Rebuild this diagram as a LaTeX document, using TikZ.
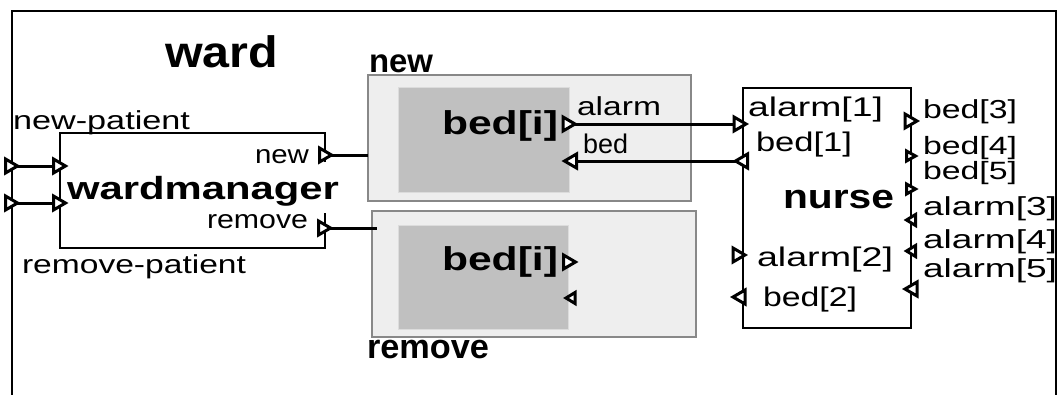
\documentclass[tikz,border=0pt]{standalone}
\usepackage{fontspec}
\setmainfont{Liberation Sans}
\usepackage{graphicx}
\usetikzlibrary{calc}

\definecolor{boxedge}{HTML}{888888}
\definecolor{boxfill}{HTML}{EEEEEE}
\definecolor{bedfill}{HTML}{C0C0C0}
\definecolor{bededge}{HTML}{DCDCDC}

% text of a given size, stretched to a given width
\newcommand\txr[3]{\resizebox{#2pt}{\height}{\fontsize{#1}{#1}\selectfont #3}}
\newcommand\txb[3]{\resizebox{#2pt}{\height}{\fontsize{#1}{#1}\selectfont\bfseries #3}}

\begin{document}
\begin{tikzpicture}[x=1pt,y=-1pt,
  lbl/.style={inner sep=0pt, outer sep=0pt, anchor=base west},
  frame/.style={draw=black, line width=2.8pt},
  comp/.style={draw=black, line width=2.8pt},
  bedouter/.style={draw=boxedge, fill=boxfill, line width=2.6pt, inner sep=0pt, outer sep=0pt},
  bedinner/.style={fill=bedfill, draw=bededge, line width=0.8pt, inner sep=0pt, outer sep=0pt},
  wire/.style={draw=black, line width=3pt},
  portline/.style={draw=black, fill=white, line width=3pt, line join=miter, miter limit=3},
  pics/pr/.style={code={\path[portline] (-6,-7) -- (6,0) -- (-6,7) -- cycle;}},
  pics/pl/.style={code={\path[portline] (6,-7) -- (-6,0) -- (6,7) -- cycle;}},
  pics/prs/.style={code={\path[portline] (-4.5,-5) -- (4.5,0) -- (-4.5,5) -- cycle;}},
  pics/pls/.style={code={\path[portline] (4.5,-5.5) -- (-4.5,0) -- (4.5,5.5) -- cycle;}},
]
\useasboundingbox (0,0) rectangle (1059,394);
\clip (0,0) rectangle (1059,394);

% enclosing ward component
\draw[frame] (12,400) -- (12,11) -- (1056,11) -- (1056,400);
\node[lbl] (tWard) at (165,67) {\txb{44}{113}{ward}};

% wardmanager
\node[minimum width=265pt, minimum height=115pt, inner sep=0pt, outer sep=0pt] (wm) at (192.5,190.5) {};
\draw[comp] ($(wm.north east)+(0,29)$) -- (wm.north east) -- (wm.north west)
  -- (wm.south west) -- (wm.south east) -- ($(wm.south east)+(0,-35)$);
\node[lbl] (tWm) at (67,199) {\txb{32}{272}{wardmanager}};
\node[lbl] (tNewPatient) at (13,129) {\txr{26}{177}{new-patient}};
\node[lbl] (tRemovePatient) at (22,273) {\txr{26}{224}{remove-patient}};
\node[lbl] (tWmNew) at (255,163) {\txr{26}{54}{new}};
\node[lbl] (tWmRemove) at (207,228) {\txr{26}{101}{remove}};

% bed instances
\node[bedouter, minimum width=323pt, minimum height=126pt] (newbox) at (529.5,138) {};
\node[bedinner, minimum width=171pt, minimum height=105pt] (newbed) at (483.5,139.5) {};
\node[bedouter, minimum width=324pt, minimum height=126pt] (rembox) at (534,274) {};
\node[bedinner, minimum width=170pt, minimum height=104pt] (rembed) at (483,277) {};
\node[lbl] (tNew) at (369,72) {\txb{33}{64}{new}};
\node[lbl] (tRemove) at (367,358) {\txb{34}{122}{remove}};
\node[lbl] (tBed1) at (442,134) {\txb{33}{116}{bed[i]}};
\node[lbl] (tBed2) at (442,270) {\txb{33}{116}{bed[i]}};
\node[lbl] (tAlarm) at (577,115) {\txr{26}{84}{alarm}};
\node[lbl] (tBed) at (583,153) {\txr{27}{45}{bed}};

% nurse
\node[comp, fill=white, minimum width=168pt, minimum height=240pt, inner sep=0pt, outer sep=0pt] (nurse) at (827,208) {};
\node[lbl] (tNurse) at (783,208) {\txb{34}{111}{nurse}};
\node[lbl] (tA1) at (748,116) {\txr{27}{135}{alarm[1]}};
\node[lbl] (tB1) at (756,151) {\txr{27}{96}{bed[1]}};
\node[lbl] (tA2) at (757,266) {\txr{27}{136}{alarm[2]}};
\node[lbl] (tB2) at (763,306) {\txr{27}{94}{bed[2]}};
\node[lbl] (tB3) at (923,118) {\txr{26}{94}{bed[3]}};
\node[lbl] (tB4) at (923,154) {\txr{25}{94}{bed[4]}};
\node[lbl] (tB5) at (923,179) {\txr{25}{94}{bed[5]}};
\node[lbl] (tA3) at (923,215) {\txr{26}{134}{alarm[3]}};
\node[lbl] (tA4) at (923,248) {\txr{26}{134}{alarm[4]}};
\node[lbl] (tA5) at (923,277) {\txr{26}{134}{alarm[5]}};

% port positions
\coordinate (wardIn1) at (11.5,166);
\coordinate (wardIn2) at (11.5,203);
\coordinate (wmIn1) at (59.5,166);
\coordinate (wmIn2) at (59.5,203);
\coordinate (wmNew) at (325.5,155);
\coordinate (wmRemove) at (324.5,228);
\coordinate (bedAlarm) at (569,124);
\coordinate (bedBed) at (570.5,161);
\coordinate (bed2Alarm) at (569.5,262);
\coordinate (bed2Bed) at (570.5,298);
\coordinate (nAlarm1) at (740,124);
\coordinate (nBed1) at (741.5,161);
\coordinate (nAlarm2) at (739,255);
\coordinate (nBed2) at (739,297);
\coordinate (nBed3) at (911,121);
\coordinate (nBed4) at (911,156);
\coordinate (nBed5) at (911,189);
\coordinate (nAlarm3) at (911,220);
\coordinate (nAlarm4) at (911,251);
\coordinate (nAlarm5) at (911,289);

% connectors
\draw[wire] (wardIn1) -- (wmIn1);
\draw[wire] (wardIn2) -- (wmIn2);
\draw[wire] (wmNew) -- (newbox.west |- wmNew);
\draw[wire] (wmRemove) -- ($(rembox.west |- wmRemove)+(5,0)$);
\draw[wire] (bedAlarm) -- (nAlarm1);
\draw[wire] (nBed1) -- (bedBed);

% ports
\pic at (wardIn1) {pr};
\pic at (wardIn2) {pr};
\pic at (wmIn1) {pr};
\pic at (wmIn2) {pr};
\pic at (wmNew) {pr};
\pic at (wmRemove) {pr};
\pic at (bedAlarm) {pr};
\pic at (bedBed) {pl};
\pic at (bed2Alarm) {pr};
\pic at (bed2Bed) {pls};
\pic at (nAlarm1) {pr};
\pic at (nBed1) {pl};
\pic at (nAlarm2) {pr};
\pic at (nBed2) {pl};
\pic at (nBed3) {pr};
\pic at (nBed4) {prs};
\pic at (nBed5) {prs};
\pic at (nAlarm3) {pls};
\pic at (nAlarm4) {pls};
\pic at (nAlarm5) {pl};
\end{tikzpicture}
\end{document}
